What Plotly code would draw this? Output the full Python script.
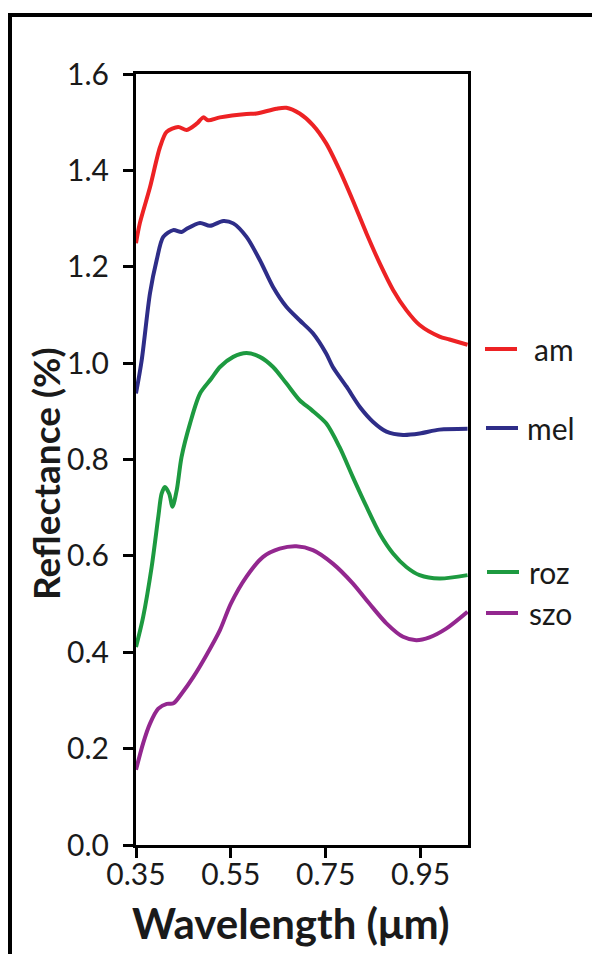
import plotly.graph_objects as go

# Reflectance spectra (wavelength in µm, reflectance in %)
am_wl = [0.350, 0.358, 0.3795, 0.4005, 0.4146, 0.439, 0.457, 0.478, 0.492, 0.502, 0.527,
         0.583, 0.604, 0.646, 0.667, 0.695, 0.723, 0.751, 0.779, 0.807, 0.836, 0.864,
         0.892, 0.920, 0.948, 0.990, 1.011, 1.049]
am_r = [1.249, 1.290, 1.365, 1.448, 1.480, 1.490, 1.484, 1.497, 1.510, 1.504, 1.510,
        1.517, 1.518, 1.528, 1.530, 1.518, 1.494, 1.456, 1.401, 1.338, 1.269, 1.207,
        1.152, 1.110, 1.079, 1.055, 1.049, 1.038]

mel_wl = [0.350, 0.362, 0.3795, 0.3936, 0.4075, 0.4285, 0.446, 0.457, 0.485, 0.506, 0.534,
          0.555, 0.583, 0.611, 0.639, 0.667, 0.695, 0.723, 0.751, 0.765, 0.794, 0.822,
          0.850, 0.878, 0.913, 0.948, 0.990, 1.049]
mel_r = [0.937, 1.006, 1.145, 1.214, 1.262, 1.276, 1.272, 1.279, 1.291, 1.285, 1.295,
         1.290, 1.262, 1.214, 1.158, 1.117, 1.089, 1.062, 1.020, 0.992, 0.951, 0.909,
         0.878, 0.858, 0.851, 0.854, 0.862, 0.864]

roz_wl = [0.350, 0.365, 0.383, 0.397, 0.404, 0.411, 0.420, 0.427, 0.436, 0.446, 0.464,
          0.485, 0.509, 0.527, 0.555, 0.583, 0.611, 0.639, 0.667, 0.695, 0.720, 0.751,
          0.779, 0.807, 0.836, 0.864, 0.892, 0.920, 0.948, 0.990, 1.049]
roz_r = [0.411, 0.473, 0.577, 0.681, 0.729, 0.743, 0.729, 0.702, 0.737, 0.805, 0.875,
         0.937, 0.968, 0.992, 1.013, 1.021, 1.013, 0.992, 0.958, 0.923, 0.903, 0.875,
         0.826, 0.764, 0.702, 0.646, 0.605, 0.577, 0.560, 0.553, 0.560]

szo_wl = [0.350, 0.365, 0.3795, 0.397, 0.415, 0.429, 0.446, 0.471, 0.499, 0.527, 0.550,
          0.583, 0.618, 0.653, 0.688, 0.723, 0.765, 0.807, 0.842, 0.878, 0.913, 0.941,
          0.969, 1.004, 1.049]
szo_r = [0.156, 0.211, 0.252, 0.283, 0.293, 0.294, 0.314, 0.349, 0.395, 0.446, 0.501,
         0.557, 0.598, 0.615, 0.620, 0.612, 0.584, 0.543, 0.501, 0.460, 0.432, 0.425,
         0.431, 0.449, 0.484]

series_names = ["am", "mel", "roz", "szo"]
series_colors = ["#ED2224", "#2E2D88", "#1D9A40", "#93278F"]
series_data = [(am_wl, am_r), (mel_wl, mel_r), (roz_wl, roz_r), (szo_wl, szo_r)]

x_ticks = [0.35, 0.55, 0.75, 0.95]
x_tick_text = ["0.35", "0.55", "0.75", "0.95"]
y_ticks = [0.0, 0.2, 0.4, 0.6, 0.8, 1.0, 1.2, 1.4, 1.6]
y_tick_text = ["0.0", "0.2", "0.4", "0.6", "0.8", "1.0", "1.2", "1.4", "1.6"]

W, H = 592, 954
L, R, T, B = 136, 124, 74, 109
PW, PH = W - L - R, H - T - B


def px(xp):
    return (xp - L) / PW


def py(yp):
    return (H - B - yp) / PH


FONT = "Lato"

fig = go.Figure()
for name, color, (wl, r) in zip(series_names, series_colors, series_data):
    fig.add_trace(go.Scatter(x=wl, y=r, mode="lines", name=name,
                             line=dict(color=color, width=4, shape="spline", smoothing=0.8),
                             showlegend=False))

# Hand-placed legend beside the right axis
legend_rows = [(349, 485, 532), (428, 486, 525), (572, 487, 527), (613, 486, 527)]
shapes = []
annotations = []
for (yc, x0, xt), name, color in zip(legend_rows, series_names, series_colors):
    shapes.append(dict(type="line", xref="paper", yref="paper",
                       x0=px(x0), x1=px(x0 + 32), y0=py(yc), y1=py(yc),
                       line=dict(color=color, width=4)))
    annotations.append(dict(text=name, xref="paper", yref="paper", x=px(xt), y=py(yc),
                            xanchor="left", yanchor="middle", showarrow=False,
                            font=dict(family=FONT, size=30, color="#1a1a1a")))

# Outer frame
shapes.append(dict(type="rect", xref="paper", yref="paper",
                   x0=px(10), x1=px(620), y0=py(15), y1=py(990),
                   line=dict(color="black", width=4), layer="below"))

annotations.append(dict(text="<b>Wavelength (μm)</b>", xref="paper", yref="paper",
                        x=px(290), y=py(923), xanchor="center", yanchor="middle",
                        showarrow=False, font=dict(family=FONT, size=42, color="#1a1a1a")))
annotations.append(dict(text="<b>Reflectance (%)</b>", xref="paper", yref="paper",
                        x=px(46), y=py(474), xanchor="center", yanchor="middle",
                        textangle=-90, showarrow=False,
                        font=dict(family=FONT, size=37, color="#1a1a1a")))

axis_common = dict(showline=True, linecolor="black", linewidth=3, mirror=True,
                   ticks="outside", ticklen=10, tickwidth=3, tickcolor="black",
                   showgrid=False, zeroline=False,
                   tickfont=dict(family=FONT, size=30, color="#1a1a1a"))

fig.update_layout(
    width=W, height=H,
    margin=dict(l=L, r=R, t=T, b=B, autoexpand=False),
    paper_bgcolor="white", plot_bgcolor="white",
    xaxis=dict(range=[0.35, 1.05], tickvals=x_ticks, ticktext=x_tick_text,
               ticklabelstandoff=-9, **axis_common),
    yaxis=dict(range=[0, 1.6], tickvals=y_ticks, ticktext=y_tick_text,
               ticklabelstandoff=8, **axis_common),
    shapes=shapes, annotations=annotations,
)

fig.write_html("out.html")
